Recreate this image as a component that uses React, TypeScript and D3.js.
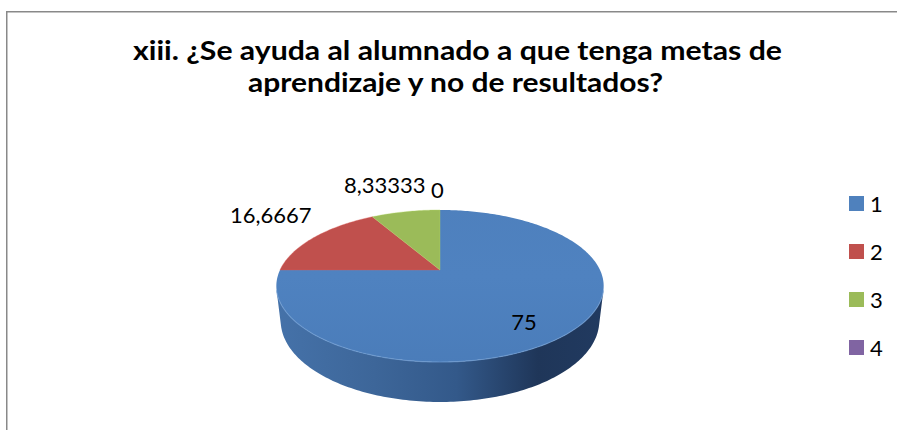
import React from "react";
import * as d3 from "d3";

const categories = ["1", "2", "3", "4"];
const values = [75, 16.6667, 8.33333, 0];
const colors = ["#4F81BD", "#C0504D", "#9BBB59", "#8064A2"];
const titleLines = [
  "xiii. ¿Se ayuda al alumnado a que tenga metas de",
  "aprendizaje y no de resultados?",
];

const W = 897;
const H = 430;

// perspective camera for the 3D pie (layout only)
const CX = 440;
const CY = 270;
const FOCAL = 678;
const RAD = 0.236;
const SIN_A = 0.454;
const COS_A = Math.sqrt(1 - SIN_A * SIN_A);
const THICK = 0.058;

function project(theta: number, r: number, y: number): [number, number] {
  const X = RAD * r * Math.sin(theta);
  const Z = RAD * r * Math.cos(theta);
  const yc = y * COS_A + Z * SIN_A;
  const zc = 1 + Z * COS_A - y * SIN_A;
  return [CX + (FOCAL * X) / zc, CY - (FOCAL * yc) / zc];
}

function arcPoints(a0: number, a1: number, r: number, y: number) {
  const n = Math.max(2, Math.ceil((Math.abs(a1 - a0) * 180) / Math.PI));
  return d3.range(n + 1).map((i) => project(a0 + ((a1 - a0) * i) / n, r, y));
}

const fmtBase = d3.format(".6~g");
const fmt = (v: number) => fmtBase(v).replace(".", ",");

// label placement relative to slice anchor (layout only)
const labelLayout = [
  { r: 0.7, anchor: "middle", dx: -4.5, dy: 20 },
  { r: 1, anchor: "end", dx: -3, dy: -14 },
  { r: 1, anchor: "end", dx: 20, dy: -19 },
  { r: 1, anchor: "middle", dx: -2.5, dy: -12 },
];

export default function App() {
  const arcs = d3
    .pie<number>()
    .sort(null)
    .startAngle(0)
    .endAngle(2 * Math.PI)(values);

  const visLimit = Math.acos(-RAD / COS_A);
  const vis0 = visLimit;
  const vis1 = 2 * Math.PI - visLimit;

  const line = d3.line<[number, number]>();

  const leftX = project(vis1, 1, 0)[0];
  const rightX = project(vis0, 1, 0)[0];

  const walls = arcs
    .map((a, i) => {
      const s = Math.max(a.startAngle, vis0);
      const e = Math.min(a.endAngle, vis1);
      if (e <= s) return null;
      const top = arcPoints(s, e, 1, 0);
      const bot = arcPoints(e, s, 1, -THICK);
      return { i, d: line([...top, ...bot])! + "Z" };
    })
    .filter(Boolean) as { i: number; d: string }[];

  const tops = arcs
    .map((a, i) => {
      if (a.endAngle - a.startAngle <= 0) return null;
      const pts = [project(0, 0, 0), ...arcPoints(a.startAngle, a.endAngle, 1, 0)];
      return { i, d: line(pts)! + "Z" };
    })
    .filter(Boolean) as { i: number; d: string }[];

  const rimPts = arcPoints(vis0, vis1, 1, 0);

  const font = "Lato, 'Open Sans', 'DejaVu Sans', sans-serif";

  return (
    <svg
      width={W}
      height={H}
      style={{
        position: "fixed",
        left: 0,
        top: 0,
        background: "#fff",
        display: "block",
        overflow: "hidden",
      }}
    >
      <defs>
        <linearGradient
          id="sideBlue"
          gradientUnits="userSpaceOnUse"
          x1={leftX}
          x2={rightX}
          y1={0}
          y2={0}
        >
          <stop offset="0" stopColor="#4572a9" />
          <stop offset="0.3" stopColor="#3d6699" />
          <stop offset="0.55" stopColor="#33598a" />
          <stop offset="0.8" stopColor="#1f3659" />
          <stop offset="1" stopColor="#213a60" />
        </linearGradient>
        <linearGradient id="sideRed" x1="0" x2="1" y1="0" y2="0">
          <stop offset="0" stopColor="#a8423f" />
          <stop offset="1" stopColor="#6e2a28" />
        </linearGradient>
        <linearGradient id="sideGreen" x1="0" x2="1" y1="0" y2="0">
          <stop offset="0" stopColor="#86a24a" />
          <stop offset="1" stopColor="#58692f" />
        </linearGradient>
        <linearGradient id="topBlue" gradientUnits="userSpaceOnUse" x1={0} y1={200} x2={0} y2={370}>
          <stop offset="0" stopColor="#4e80bd" />
          <stop offset="0.45" stopColor="#4f82c0" />
          <stop offset="1" stopColor="#4a7cb9" />
        </linearGradient>
      </defs>
      <path
        d={`M6.75,${H} V11.75 H${W}`}
        fill="none"
        stroke="#898989"
        strokeWidth={1.5}
      />
      {titleLines.map((t, i) => (
        <text
          key={i}
          x={i === 0 ? 133 : 248}
          y={i === 0 ? 60 : 92}
          textLength={i === 0 ? 649 : 415}
          lengthAdjust="spacingAndGlyphs"
          fontFamily={font}
          fontWeight="bold"
          fontSize={26}
          fill="#000"
        >
          {t}
        </text>
      ))}
      {walls.map((w) => (
        <path
          key={"w" + w.i}
          d={w.d}
          fill={w.i === 0 ? "url(#sideBlue)" : w.i === 1 ? "url(#sideRed)" : "url(#sideGreen)"}
        />
      ))}
      {tops.map((t) => (
        <path
          key={"t" + t.i}
          d={t.d}
          fill={t.i === 0 ? "url(#topBlue)" : colors[t.i]}
          stroke={t.i === 0 ? "none" : d3.color(colors[t.i])!.brighter(0.4).formatHex()}
          strokeWidth={0.6}
          strokeOpacity={0.6}
        />
      ))}
      <path
        d={line(rimPts)!}
        fill="none"
        stroke="#6e9bd2"
        strokeWidth={1.2}
        strokeOpacity={0.7}
      />
      {arcs.map((a, i) => {
        const mid = (a.startAngle + a.endAngle) / 2;
        const L = labelLayout[i];
        const [ax, ay] = project(mid, L.r, 0);
        return (
          <text
            key={"l" + i}
            x={ax + L.dx}
            y={ay + L.dy}
            textAnchor={L.anchor as any}
            fontFamily={font}
            fontSize={22}
            fill="#000"
          >
            {fmt(values[i])}
          </text>
        );
      })}
      {categories.map((c, i) => (
        <g key={"lg" + i}>
          <rect x={849} y={196 + i * 48} width={15} height={15} fill={colors[i]} />
          <text x={870} y={211.5 + i * 48} fontFamily={font} fontSize={22} fill="#000">
            {c}
          </text>
        </g>
      ))}
    </svg>
  );
}
